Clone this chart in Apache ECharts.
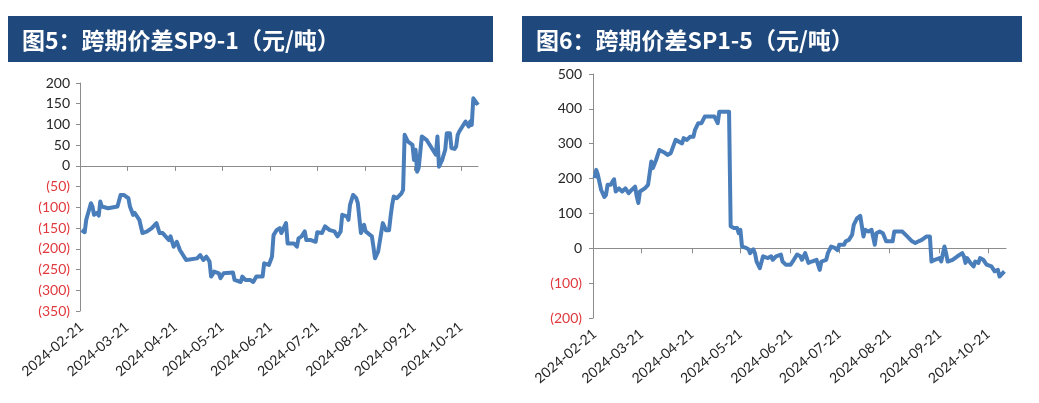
<!DOCTYPE html>
<html>
<head>
<meta charset="utf-8">
<script src="https://cdn.jsdelivr.net/npm/echarts@6/dist/echarts.min.js"></script>
<style>
  html, body { margin: 0; padding: 0; background: #fff; }
  #main { width: 1039px; height: 403px; }
</style>
</head>
<body>
<div id="main"></div>
<script>
// 图5：SP9-1 跨期价差 (元/吨)
const datesSP91 = ['02-21','02-23','02-24','02-27','02-28','02-29','03-02','03-03','03-04','03-05','03-09','03-15','03-16','03-17','03-19','03-22','03-23','03-25','03-26','03-29','03-31','04-03','04-06','04-09','04-11','04-13','04-17','04-18','04-20','04-22','04-24','04-28','05-05','05-07','05-09','05-11','05-13','05-14','05-16','05-19','05-20','05-22','05-28','05-29','06-02','06-03','06-05','06-08','06-10','06-12','06-16','06-17','06-20','06-22','06-23','06-25','06-27','06-28','06-30','07-01','07-02','07-06','07-08','07-09','07-11','07-13','07-14','07-17','07-20','07-21','07-24','07-26','07-29','08-01','08-03','08-05','08-06','08-09','08-10','08-11','08-13','08-15','08-16','08-17','08-18','08-20','08-21','08-22','08-25','08-26','08-27','08-29','08-30','09-01','09-03','09-05','09-06','09-07','09-08','09-10','09-13','09-14','09-15','09-17','09-20','09-21','09-22','09-23','09-24','09-26','09-29','10-01','10-03','10-05','10-06','10-07','10-09','10-11','10-12','10-14','10-15','10-17','10-18','10-19','10-20','10-22','10-24','10-26','10-27','10-28','10-29','10-30','11-01'];
const valuesSP91 = [-155,-160,-130,-90,-98,-118,-113,-120,-86,-98,-102,-98,-102,-70,-70,-78,-98,-118,-113,-130,-162,-158,-150,-138,-162,-162,-179,-170,-195,-183,-203,-227,-223,-215,-227,-219,-231,-267,-255,-259,-271,-259,-257,-275,-280,-267,-275,-275,-280,-267,-267,-235,-239,-219,-167,-155,-150,-162,-146,-138,-187,-187,-195,-175,-170,-158,-179,-179,-183,-160,-162,-146,-155,-158,-170,-158,-118,-122,-130,-94,-70,-78,-90,-90,-162,-142,-158,-155,-170,-195,-223,-207,-211,-138,-155,-155,-122,-94,-74,-78,-66,-58,75,59,51,14,39,-14,-5,71,63,51,39,27,71,-2,14,39,79,79,43,41,47,75,83,95,107,95,107,99,163,160,147];

// 图6：SP1-5 跨期价差 (元/吨)
const datesSP15 = ['02-21','02-22','02-23','02-25','02-27','02-28','02-29','03-02','03-03','03-04','03-05','03-07','03-09','03-11','03-13','03-15','03-17','03-18','03-19','03-20','03-23','03-25','03-26','03-27','03-28','03-30','04-01','04-04','04-06','04-08','04-09','04-11','04-13','04-15','04-16','04-18','04-20','04-22','04-23','04-25','04-27','04-29','05-02','05-05','05-07','05-08','05-11','05-14','05-15','05-17','05-19','05-20','05-21','05-22','05-24','05-26','05-27','05-29','05-30','05-31','06-02','06-04','06-07','06-09','06-10','06-12','06-15','06-16','06-18','06-21','06-23','06-25','06-27','06-28','06-30','07-02','07-04','07-07','07-09','07-10','07-13','07-14','07-16','07-18','07-20','07-21','07-24','07-25','07-27','07-29','07-30','08-01','08-03','08-05','08-06','08-08','08-10','08-12','08-13','08-15','08-17','08-19','08-23','08-24','08-29','09-01','09-04','09-06','09-08','09-10','09-13','09-15','09-16','09-18','09-21','09-22','09-24','09-25','09-26','09-29','10-02','10-05','10-06','10-07','10-08','10-10','10-12','10-13','10-15','10-16','10-18','10-20','10-23','10-25','10-27','10-28','10-30','10-31'];
const valuesSP15 = [201,225,211,168,147,153,182,182,191,198,163,172,163,172,158,168,177,149,130,163,172,182,215,249,230,254,282,275,268,273,268,311,306,301,316,311,320,320,340,359,359,378,378,378,359,392,392,392,63,58,58,43,53,5,2,-3,-14,-3,-14,-38,-57,-23,-28,-23,-33,-23,-18,-38,-47,-47,-33,-18,-23,-33,-14,-42,-38,-33,-62,-38,-33,-14,5,2,-5,10,10,20,24,39,67,86,93,34,53,48,53,10,43,48,43,20,20,48,48,34,20,15,20,24,34,34,-38,-33,-28,-38,5,-14,-38,-33,-23,-14,-23,-42,-28,-42,-52,-38,-42,-28,-33,-47,-52,-66,-62,-81,-71,-66];

// x 轴标签
const xLabels = ['2024-02-21','2024-03-21','2024-04-21','2024-05-21','2024-06-21','2024-07-21','2024-08-21','2024-09-21','2024-10-21'];

const titles = ['图5：跨期价差SP9-1（元/吨）', '图6：跨期价差SP1-5（元/吨）'];

const lineColor = '#4a7ebb';
const axisColor = '#8c8c8c';

// 日期转成毫秒数，x 轴用 value 轴
const ts = s => Date.parse(s + 'T00:00:00Z');
const xMin = ts('2024-02-20');
const xMax = ts('2024-11-01');
const labelVals = xLabels.map(ts);
const tickVals = labelVals.slice(1);
const pad = n => (n < 10 ? '0' : '') + n;
const fmtDate = v => {
  const d = new Date(v);
  return d.getUTCFullYear() + '-' + pad(d.getUTCMonth() + 1) + '-' + pad(d.getUTCDate());
};

function toPairs(dates, vals) {
  return dates.map((d, i) => [ts('2024-' + d), vals[i]]);
}

function yAxisOf(gridIndex, min, max, interval, margin) {
  return {
    type: 'value', gridIndex, min, max, interval,
    splitLine: { show: false },
    axisLine: { show: true, lineStyle: { color: axisColor, width: 1 } },
    axisTick: { show: true, length: 4, lineStyle: { color: axisColor } },
    axisLabel: {
      margin,
      fontFamily: 'Lato', fontSize: 14,
      formatter: v => v < 0 ? '{n|(' + (-v) + ')}' : '{p|' + v + '}',
      rich: {
        n: { color: '#e0393e', fontFamily: 'Lato', fontSize: 14 },
        p: { color: '#262626', fontFamily: 'Lato', fontSize: 14 }
      }
    }
  };
}

// 每个图两个 x 轴：一个只放底部日期标签，一个画在 0 位置的轴线和刻度
function xAxesOf(gridIndex, yIndex) {
  return [
    {
      type: 'value', gridIndex, min: xMin, max: xMax, position: 'bottom',
      splitLine: { show: false },
      axisLine: { show: false, onZero: false },
      axisTick: { show: false },
      axisLabel: {
        customValues: labelVals,
        rotate: 40, margin: 14,
        fontFamily: 'Lato', fontSize: 14, color: '#262626',
        formatter: v => fmtDate(v)
      }
    },
    {
      type: 'value', gridIndex, min: xMin, max: xMax, position: 'bottom',
      splitLine: { show: false },
      axisLine: { show: true, onZero: true, onZeroAxisIndex: yIndex, lineStyle: { color: axisColor, width: 1 } },
      axisTick: { show: true, customValues: tickVals, length: 5, lineStyle: { color: axisColor } },
      axisLabel: { show: false }
    }
  ];
}

const chart = echarts.init(document.getElementById('main'));
chart.setOption({
  animation: false,
  backgroundColor: '#fff',
  graphic: [
    { type: 'rect', shape: { x: 8, y: 16, width: 485, height: 46 }, style: { fill: '#1f487c' } },
    { type: 'rect', shape: { x: 522, y: 16, width: 500, height: 46 }, style: { fill: '#1f487c' } },
    { type: 'text', x: 22, y: 40, style: { text: titles[0], fill: '#fff', font: 'bold 23px "Noto Sans CJK SC"', textVerticalAlign: 'middle' } },
    { type: 'text', x: 536, y: 40, style: { text: titles[1], fill: '#fff', font: 'bold 23px "Noto Sans CJK SC"', textVerticalAlign: 'middle' } }
  ],
  grid: [
    { left: 80, top: 83, width: 398, height: 228 },
    { left: 593, top: 74, width: 413, height: 244 }
  ],
  xAxis: [].concat(xAxesOf(0, 0), xAxesOf(1, 1)),
  yAxis: [
    yAxisOf(0, -350, 200, 50, 10),
    yAxisOf(1, -200, 500, 100, 11)
  ],
  series: [
    {
      type: 'line', xAxisIndex: 0, yAxisIndex: 0,
      data: toPairs(datesSP91, valuesSP91),
      showSymbol: false,
      lineStyle: { color: lineColor, width: 4, join: 'round' }
    },
    {
      type: 'line', xAxisIndex: 2, yAxisIndex: 1,
      data: toPairs(datesSP15, valuesSP15),
      showSymbol: false,
      lineStyle: { color: lineColor, width: 4, join: 'round' }
    }
  ]
});
</script>
</body>
</html>
